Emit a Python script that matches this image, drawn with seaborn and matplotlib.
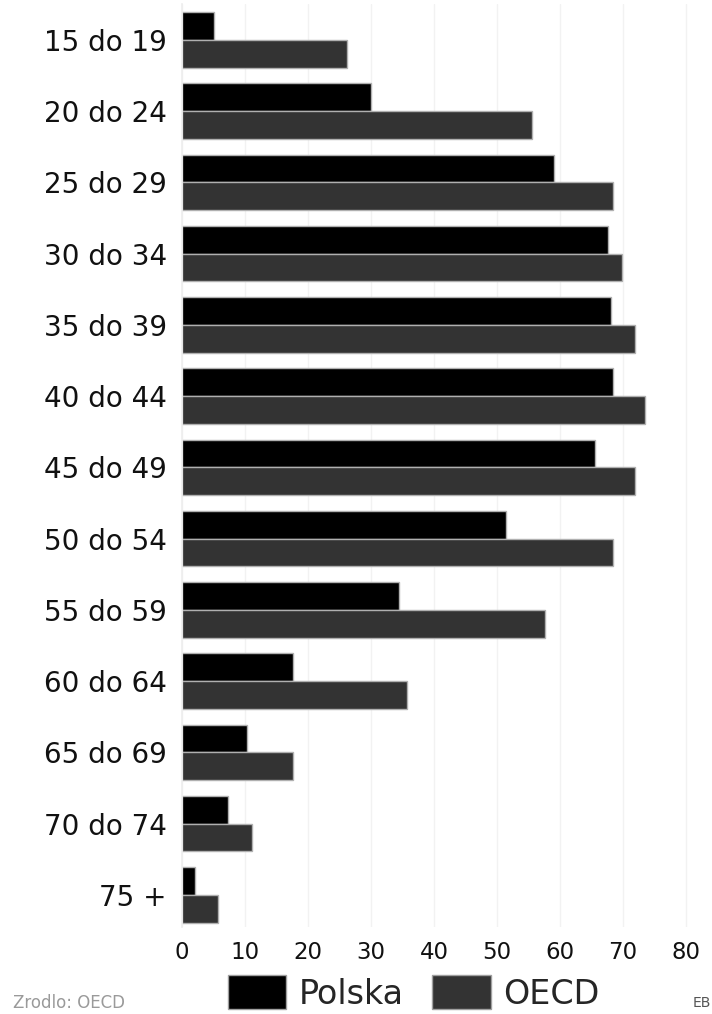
"""Employment rate by age group: Polska vs OECD (horizontal grouped bars)."""

import matplotlib
matplotlib.use("Agg")
import matplotlib.pyplot as plt
from matplotlib.patches import Patch
import pandas as pd
import seaborn as sns

AGE_GROUPS = [
    "15 do 19", "20 do 24", "25 do 29", "30 do 34", "35 do 39", "40 do 44", "45 do 49",
    "50 do 54", "55 do 59", "60 do 64", "65 do 69", "70 do 74", "75 +",
]
POLSKA = [5.1, 30.0, 59.1, 67.6, 68.2, 68.4, 65.6, 51.5, 34.4, 17.7, 10.3, 7.3, 2.1]
OECD = [26.2, 55.6, 68.4, 69.8, 72.0, 73.5, 72.0, 68.4, 57.7, 35.7, 17.7, 11.1, 5.7]
SERIES = ["Polska", "OECD"]
X_TICKS = [0, 10, 20, 30, 40, 50, 60, 70, 80]
COLORS = {"Polska": "#000000", "OECD": "#333333"}

df = pd.DataFrame({
    "grupa": AGE_GROUPS * 2,
    "kraj": ["Polska"] * len(AGE_GROUPS) + ["OECD"] * len(AGE_GROUPS),
    "wartosc": POLSKA + OECD,
})

sns.set_theme(style="white")
plt.rcParams["font.family"] = ["DejaVu Sans"]

fig = plt.figure(figsize=(7.12, 10.14), dpi=100)
ax = fig.add_axes([0.2556, 0.0858, 0.7164, 0.9100])

ax.grid(axis="x", color="#f2f2f2", linewidth=1)
ax.set_axisbelow(True)

sns.barplot(
    data=df, y="grupa", x="wartosc", hue="kraj", hue_order=SERIES,
    order=AGE_GROUPS, orient="h", palette=COLORS, width=0.78,
    edgecolor="#b0b0b0", linewidth=1.0, legend=False, ax=ax,
)

ax.set_xlim(0, 81)
ax.set_ylim(12.45, -0.5)
ax.set_xticks(X_TICKS)
ax.set_xticklabels([str(t) for t in X_TICKS])
ax.set_xlabel("")
ax.set_ylabel("")
ax.tick_params(axis="x", length=0, pad=10, labelsize=16.5, labelcolor="#111111")
ax.tick_params(axis="y", length=0, pad=11, labelsize=20, labelcolor="#111111")
for side in ["top", "right", "bottom"]:
    ax.spines[side].set_visible(False)
ax.spines["left"].set_color("#eeeeee")

handles = [Patch(facecolor=COLORS[s], edgecolor="#a0a0a0", label=s) for s in SERIES]
fig.legend(
    handles=handles, loc="center", bbox_to_anchor=(0.581, 0.0207), ncol=2,
    frameon=False, fontsize=24, handlelength=1.75, handleheight=1.17,
    handletextpad=0.36, columnspacing=0.87, borderpad=0, borderaxespad=0,
)

fig.text(0.018, 0.011, "Zrodlo: OECD", fontsize=12, color="#9a9a9a", ha="left", va="center")
fig.text(0.998, 0.011, "EB", fontsize=10, color="#555555", ha="right", va="center")

fig.savefig("out.png", dpi=100)
